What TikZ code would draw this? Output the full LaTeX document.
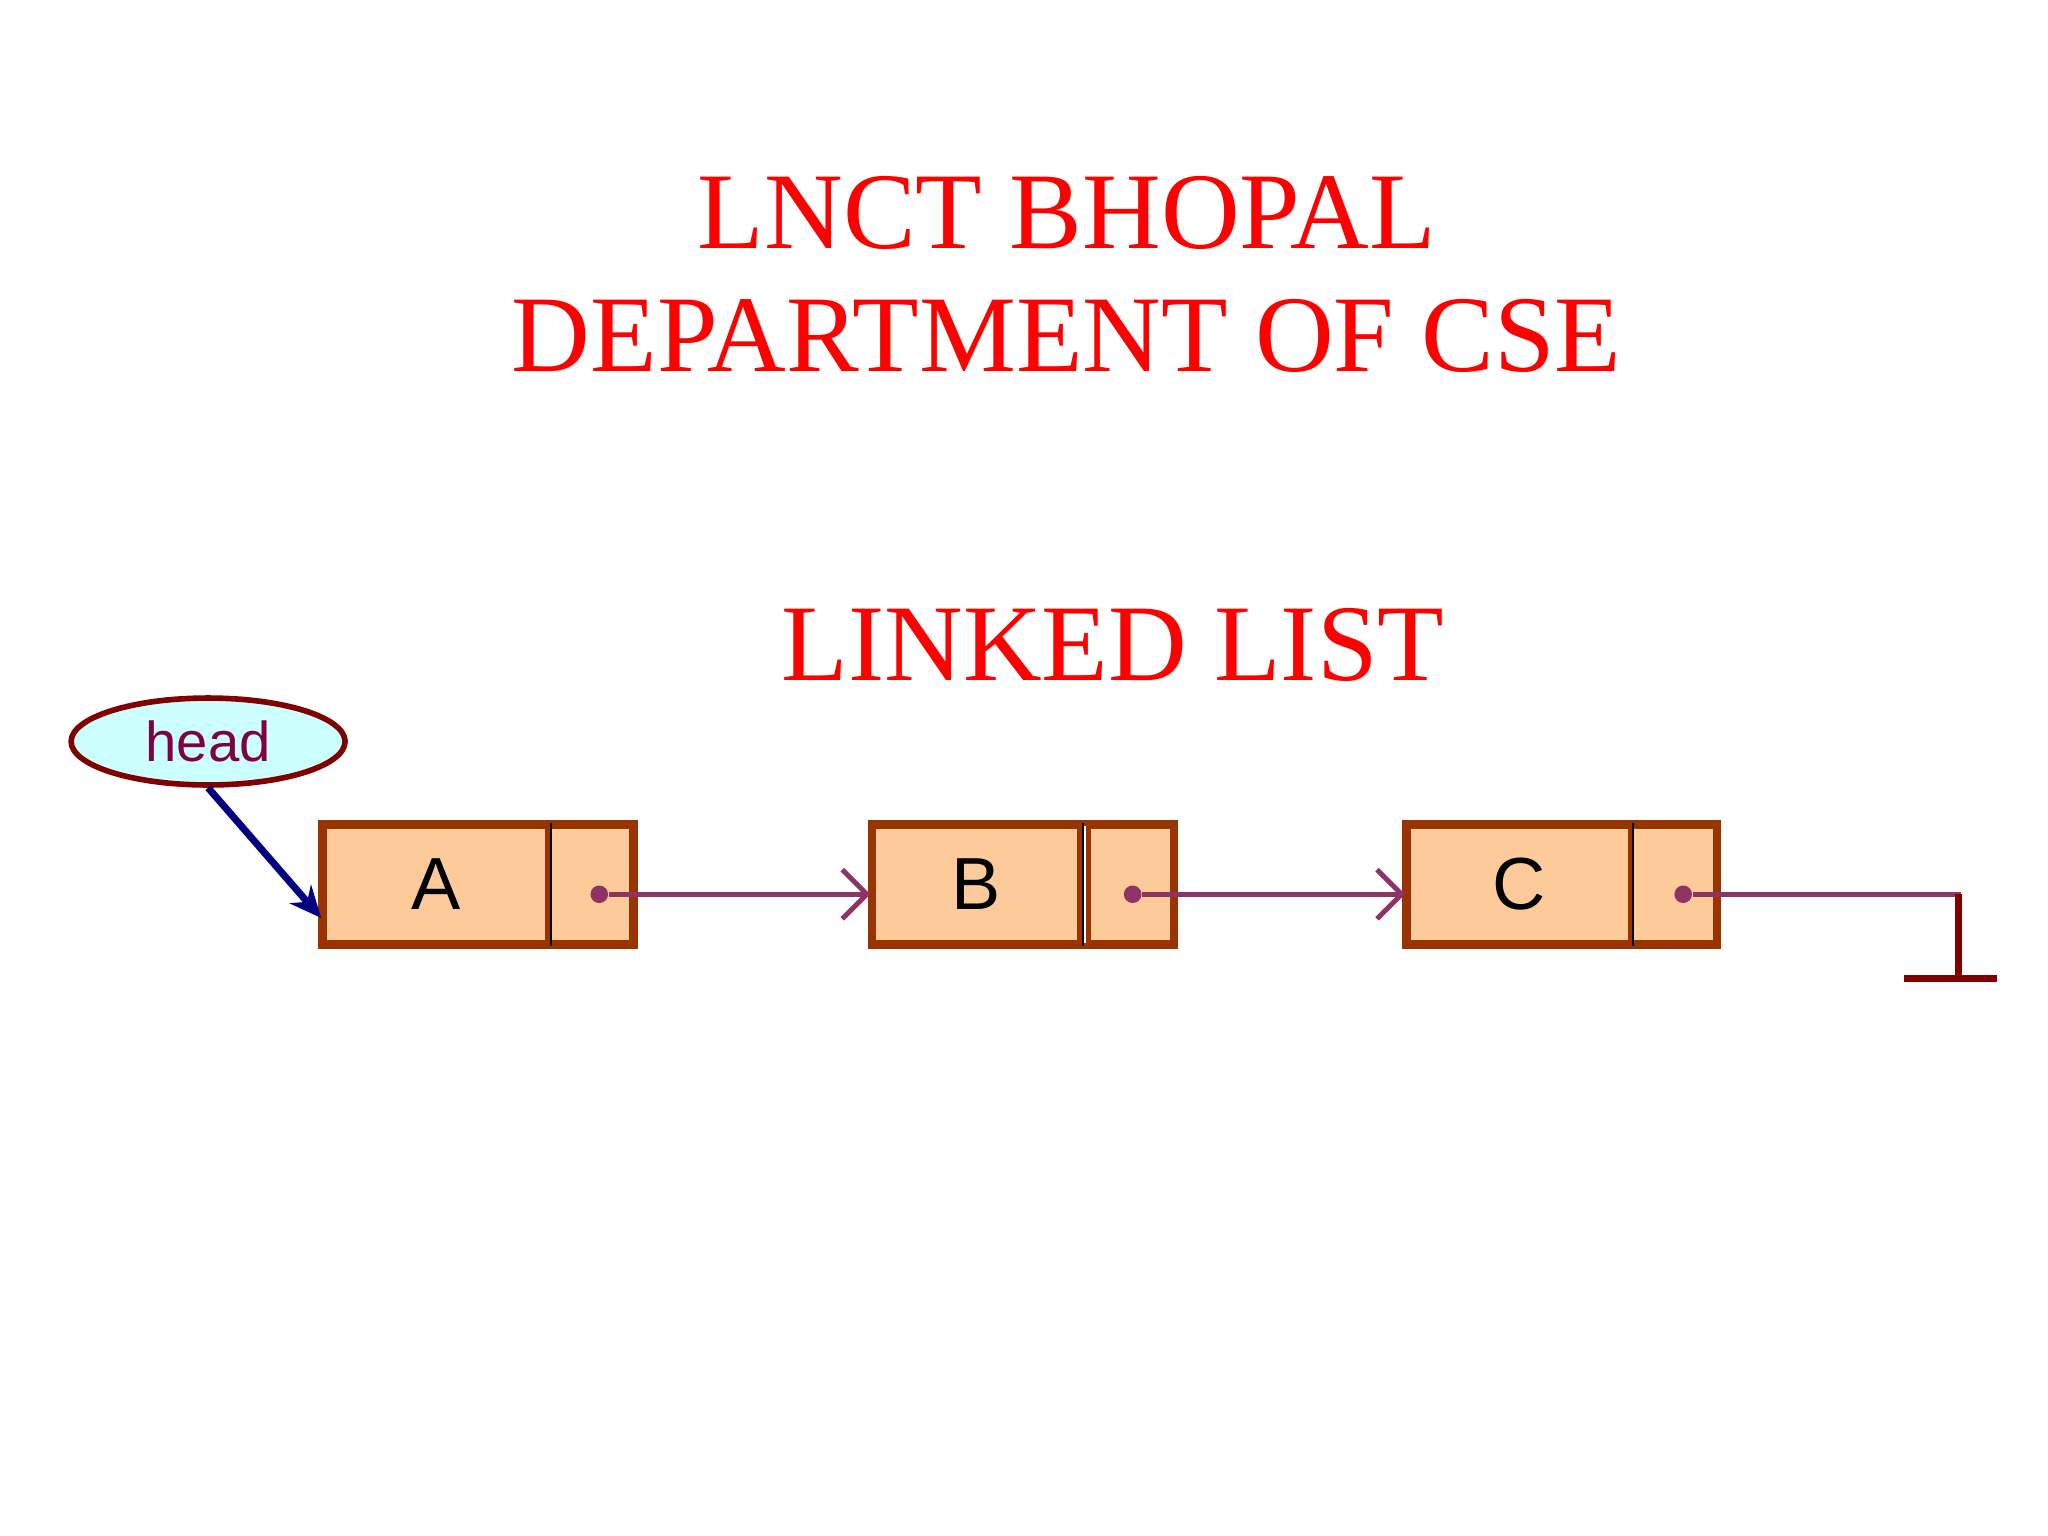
\documentclass[tikz,border=0pt]{standalone}
\usepackage{fontspec}
\setmainfont{Liberation Serif}
\newfontfamily\arialfont{Liberation Sans}
\usetikzlibrary{arrows.meta,shapes.geometric}
\definecolor{titlered}{RGB}{255,0,0}
\definecolor{boxfill}{RGB}{253,203,154}
\definecolor{boxline}{RGB}{153,51,0}
\definecolor{linkcol}{RGB}{143,51,102}
\definecolor{headline}{RGB}{128,0,0}
\definecolor{headfill}{RGB}{204,255,255}
\definecolor{headtext}{RGB}{128,0,64}
\definecolor{navy}{RGB}{0,0,128}
\begin{document}
\begin{tikzpicture}[x=0.01317cm,y=-0.01317cm]
		\tikzset{
			title/.style={text=titlered, font=\fontsize{31}{36}\selectfont, inner sep=0pt},
			datacell/.style={draw=boxline, fill=boxfill, line width=1.6pt, minimum height=89*0.01317cm, inner sep=0pt, font=\arialfont\fontsize{21}{24}\selectfont},
			ptrcell/.style={datacell, minimum width=64*0.01317cm},
			link/.style={linkcol, line width=1.4pt},
			dot/.style={circle, fill=linkcol, minimum size=5pt, inner sep=0pt}
		}
		\useasboundingbox (0,0) rectangle (1555,1166);
		% titles
		\node[title] (t1) at (810,162) {LNCT BHOPAL};
		\node[title] (t2) at (810,255) {DEPARTMENT OF CSE};
		\node[title] (t3) at (845,490) {LINKED LIST};
		% head pointer
		\node[ellipse, draw=headline, fill=headfill, line width=1.6pt, minimum width=208*0.01317cm, minimum height=66*0.01317cm, inner sep=0pt, text=headtext, font=\arialfont\fontsize{16}{18}\selectfont] (head) at (158,563) {head};
		% nodes
		\node[datacell, minimum width=170*0.01317cm] (a) at (331,671.5) {A};
		\node[ptrcell] (ap) at (448,671.5) {};
		\node[datacell, minimum width=157*0.01317cm] (b) at (741.5,671.5) {B};
		\node[ptrcell] (bp) at (858.5,671.5) {};
		\node[datacell, minimum width=169*0.01317cm] (c) at (1153.5,671.5) {C};
		\node[ptrcell] (cp) at (1270.5,671.5) {};
		\draw[boxline, line width=1.6pt] (a.south west) rectangle (ap.north east);
		\draw[boxline, line width=1.6pt] (b.south west) rectangle (bp.north east);
		\draw[boxline, line width=1.6pt] (c.south west) rectangle (cp.north east);
		\draw[black, line width=0.6pt] (a.north east) -- (a.south east);
		\draw[black, line width=0.6pt] (b.north east) -- (b.south east);
		\draw[black, line width=0.6pt] (c.north east) -- (c.south east);
		% links
		\node[dot] (d1) at (455,679) {};
		\node[dot] (d2) at (860,679) {};
		\node[dot] (d3) at (1278,679) {};
		\coordinate (b1) at (b.west |- d1);
		\coordinate (c1) at (c.west |- d2);
		\draw[link, -{Straight Barb[length=7pt,width=14pt]}] (d1) -- (b1);
		\draw[link, -{Straight Barb[length=7pt,width=14pt]}] (d2) -- (c1);
		\coordinate (gnd) at (1487,743);
		\coordinate (gl) at (1446,743);
		\coordinate (gr) at (1516,743);
		\draw[link] (d3) -| (gnd);
		\draw[headline, line width=2.2pt] (gnd) -- ++(0,-64);
		\draw[headline, line width=2.2pt] (gl) -- (gr);
		\draw[navy, line width=2pt, -{Stealth[length=9pt,width=8pt]}] (head.south) -- (a.west |- 0,697);
\end{tikzpicture}
\end{document}
